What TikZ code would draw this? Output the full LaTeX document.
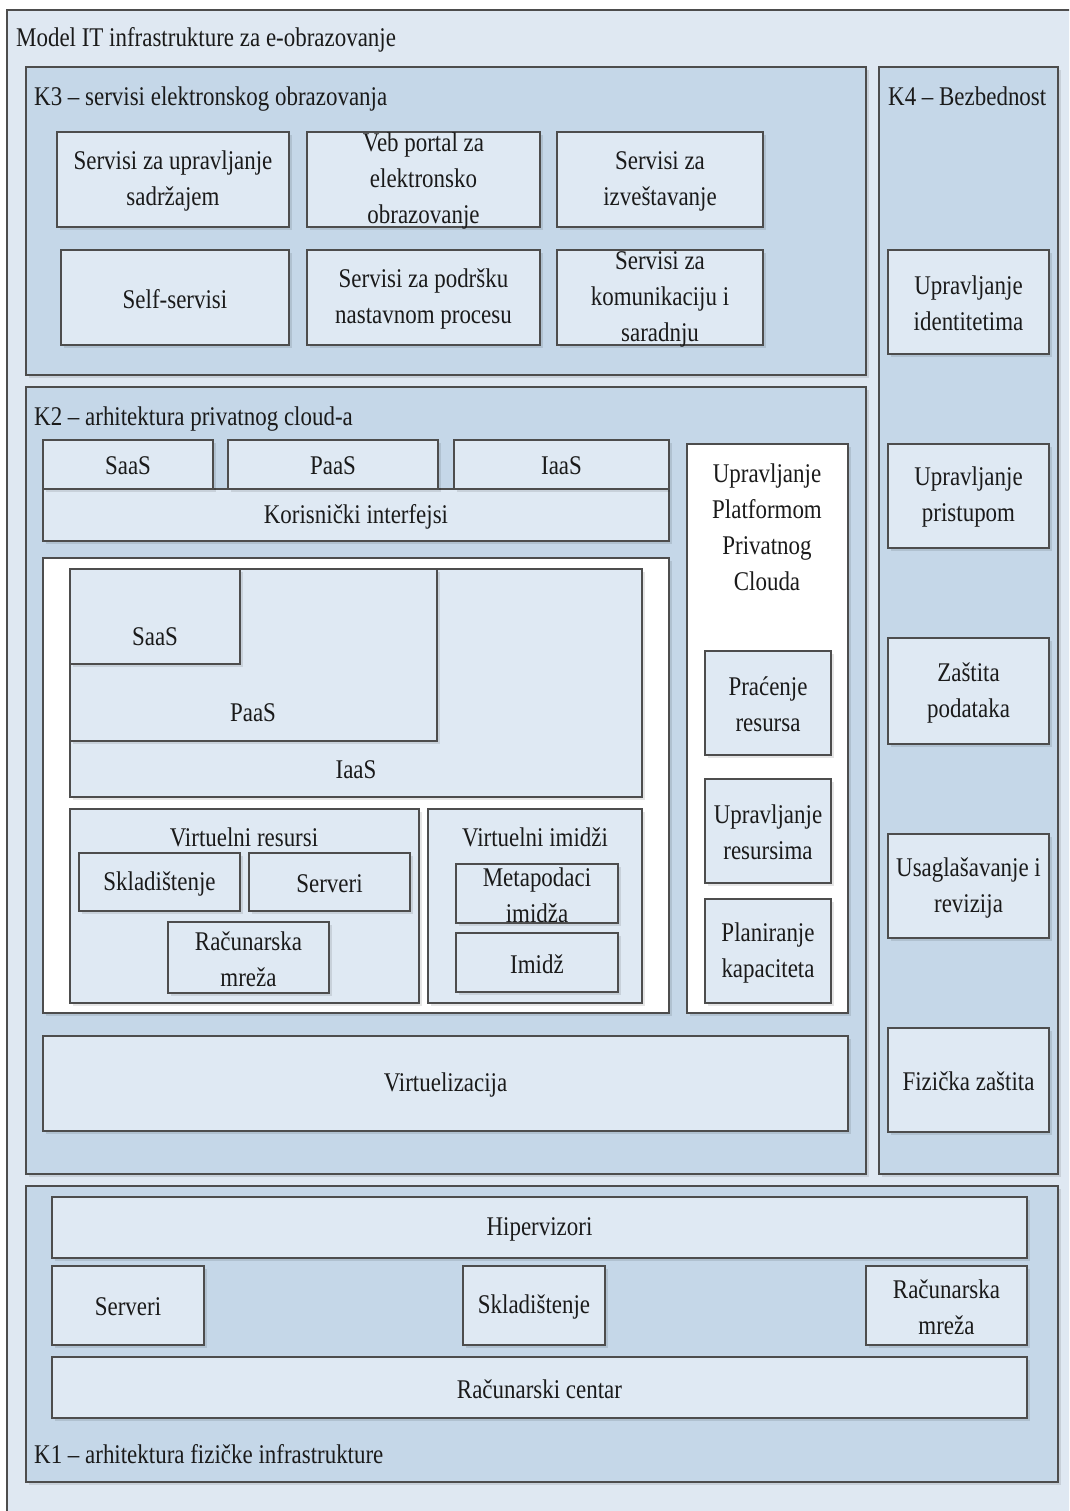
\documentclass[tikz,border=0pt]{standalone}
\usepackage{fontspec}
\setmainfont{Liberation Serif}[FakeStretch=0.85]
\usetikzlibrary{shadows}
\definecolor{bgc}{HTML}{DFE8F2}
\definecolor{panelc}{HTML}{C5D7E8}
\definecolor{boxc}{HTML}{DFE9F3}
\definecolor{linec}{HTML}{4D4D4D}
\definecolor{txtc}{HTML}{1A1A1A}
\tikzset{
  sh/.style={general shadow={fill=black, opacity=.1, shadow xshift=3pt, shadow yshift=-3pt}},
  frame/.style={rectangle, draw=linec, line width=1.1pt, inner sep=0pt, outer sep=0pt},
  panel/.style={frame, fill=panelc, sh},
  box/.style={frame, fill=boxc, sh},
  wbox/.style={frame, fill=white, sh},
  txt/.style={align=center, inner sep=0pt, text=txtc, font=\fontsize{27}{36}\selectfont},
}
% block: style, name, x1, y1, x2, y2, text
\newcommand\blk[7]{%
  \node[#1, minimum width={(#5)-(#3)}, minimum height={(#6)-(#4)}] (#2)
    at ({((#3)+(#5))/2},{((#4)+(#6))/2}) {};
  \node[txt, yshift=-1.5pt] (#2-t) at (#2.center) {#7};}
% empty block (text placed separately)
\newcommand\eblk[6]{%
  \node[#1, minimum width={(#5)-(#3)}, minimum height={(#6)-(#4)}] (#2)
    at ({((#3)+(#5))/2},{((#4)+(#6))/2}) {};}
\begin{document}
\begin{tikzpicture}[x=1pt,y=-1pt]
\useasboundingbox (0,0) rectangle (1069,1511);
\fill[white] (0,0) rectangle (1069,1511);
\clip (0,0) rectangle (1069,1511);

% outer frame
\eblk{frame, fill=bgc}{outer}{7}{10}{1090}{1530}
\node[txt, anchor=base west] (title) at (16,47) {Model IT infrastrukture za e-obrazovanje};

% ---- K3
\eblk{panel}{k3}{26}{67}{866}{375}
\node[txt, anchor=base west] (k3-t) at (34,106) {K3 – servisi elektronskog obrazovanja};
\blk{box}{s1}{57}{132}{289}{227}{Servisi za upravljanje\\sadržajem}
\blk{box}{s2}{307}{132}{540}{227}{Veb portal za\\elektronsko\\obrazovanje}
\blk{box}{s3}{557}{132}{763}{227}{Servisi za\\izveštavanje}
\blk{box}{s4}{61}{250}{289}{345}{Self-servisi}
\blk{box}{s5}{307}{250}{540}{345}{Servisi za podršku\\nastavnom procesu}
\blk{box}{s6}{557}{250}{763}{345}{Servisi za\\komunikaciju i\\saradnju}

% ---- K4
\eblk{panel}{k4}{879}{67}{1058}{1174}
\node[txt, anchor=base west] (k4-t) at (888,106) {K4 – Bezbednost};
\blk{box}{b1}{888}{250}{1049}{354}{Upravljanje\\identitetima}
\blk{box}{b2}{888}{444}{1049}{548}{Upravljanje\\pristupom}
\blk{box}{b3}{888}{638}{1049}{744}{Zaštita\\podataka}
\blk{box}{b4}{888}{834}{1049}{938}{Usaglašavanje i\\revizija}
\blk{box}{b5}{888}{1028}{1049}{1132}{Fizička zaštita}

% ---- K2
\eblk{panel}{k2}{26}{387}{866}{1174}
\node[txt, anchor=base west] (k2-t) at (34,425) {K2 – arhitektura privatnog cloud-a};
\blk{box}{ui}{43}{489}{669}{541}{Korisnički interfejsi}
\blk{box}{saas}{43}{440}{213}{489}{SaaS}
\blk{box}{paas}{228}{440}{438}{489}{PaaS}
\blk{box}{iaas}{454}{440}{669}{489}{IaaS}

\eblk{wbox}{stack}{43}{558}{669}{1013}
\eblk{box}{iaas2}{70}{569}{642}{797}
\eblk{box}{paas2}{70}{569}{437}{741}
\eblk{box}{saas2}{70}{569}{240}{664}
\node[txt] (saas2-t) at (155,637) {SaaS};
\node[txt] (paas2-t) at (253,713) {PaaS};
\node[txt] (iaas2-t) at (356,770) {IaaS};

\eblk{box}{vres}{70}{809}{419}{1003}
\node[txt] (vres-t) at (244,837) {Virtuelni resursi};
\blk{box}{skl}{79}{853}{240}{911}{Skladištenje}
\blk{box}{srv}{249}{853}{410}{911}{Serveri}
\blk{box}{mre}{168}{922}{329}{993}{Računarska\\mreža}

\eblk{box}{vimg}{428}{809}{642}{1003}
\node[txt] (vimg-t) at (535,837) {Virtuelni imidži};
\blk{box}{meta}{456}{864}{618}{923}{Metapodaci\\imidža}
\blk{box}{img}{456}{933}{618}{992}{Imidž}

\eblk{wbox}{mgmt}{687}{444}{848}{1013}
\node[txt] (mgmt-t) at (767,527.5) {Upravljanje\\Platformom\\Privatnog\\Clouda};
\blk{box}{m1}{705}{651}{831}{755}{Praćenje\\resursa}
\blk{box}{m2}{705}{779}{831}{883}{Upravljanje\\resursima}
\blk{box}{m3}{705}{899}{831}{1003}{Planiranje\\kapaciteta}

\blk{box}{virt}{43}{1036}{848}{1131}{Virtuelizacija}

% ---- K1
\eblk{panel}{k1}{26}{1186}{1058}{1482}
\node[txt, anchor=base west] (k1-t) at (34,1463) {K1 – arhitektura fizičke infrastrukture};
\blk{box}{hyp}{52}{1197}{1027}{1258}{Hipervizori}
\blk{box}{psrv}{52}{1266}{204}{1345}{Serveri}
\blk{box}{pskl}{463}{1266}{605}{1345}{Skladištenje}
\blk{box}{pmre}{866}{1266}{1027}{1345}{Računarska\\mreža}
\blk{box}{dc}{52}{1357}{1027}{1418}{Računarski centar}
\end{tikzpicture}
\end{document}
